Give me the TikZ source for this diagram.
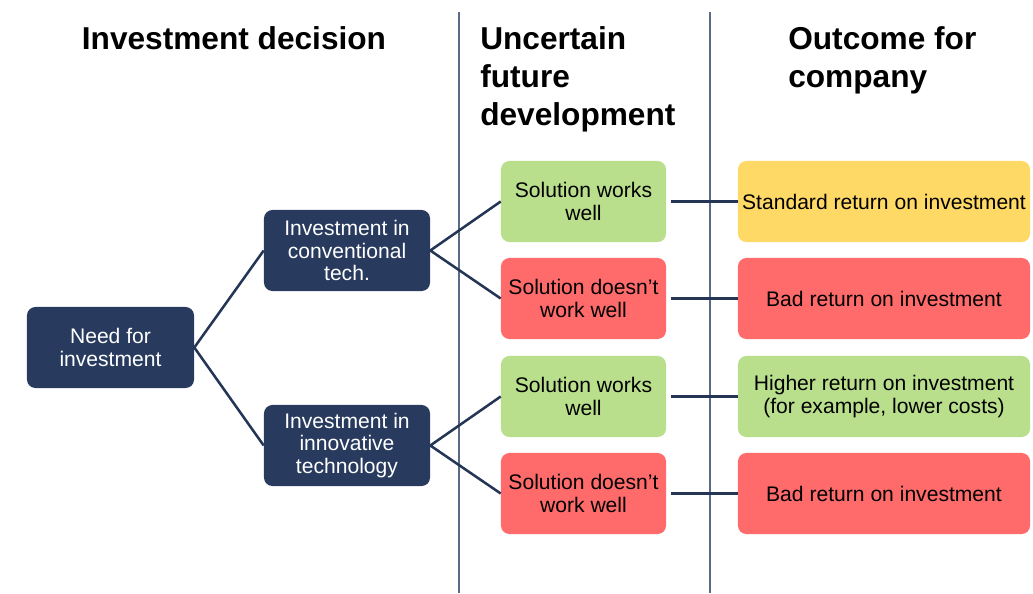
\documentclass[tikz,border=0pt]{standalone}
\usepackage{fontspec}
\setmainfont{Liberation Sans}
\usepackage{xcolor}
\usepackage{tikz}
\usetikzlibrary{positioning}
\definecolor{navy}{HTML}{283B5E}
\definecolor{wire}{HTML}{243556}
\definecolor{rule}{HTML}{5B6B87}
\definecolor{good}{HTML}{B9DF8D}
\definecolor{bad}{HTML}{FF6B6B}
\definecolor{fair}{HTML}{FFD966}
\tikzset{
  box/.style={rounded corners=6pt,inner sep=2pt,align=center,minimum height=2.025cm,font=\fontsize{15}{16}\selectfont},
  decbox/.style={box,fill=navy,text=white,minimum width=4.15cm},
  solbox/.style={box,fill=#1,text=black,minimum width=4.125cm},
  outbox/.style={box,fill=#1,text=black,minimum width=7.3cm},
  head/.style={inner sep=0pt,font=\fontsize{22.5}{27}\selectfont\bfseries,align=left},
  link/.style={draw=wire,line width=1.8pt},
  divider/.style={draw=rule,line width=1pt},
}

\begin{document}
\begin{tikzpicture}[x=0.025cm,y=-0.025cm]
    \useasboundingbox (0,0) rectangle (1033,593);
    % column dividers
    \draw[divider] (459,12) -- (459,593);
    \draw[divider] (710,12) -- (710,593);
    % headings
    \node[head,anchor=north] (h1) at (234,26) {Investment decision};
    \node[head,anchor=north west] (h2) at (480,26) {Uncertain\\future\\development};
    \node[head,anchor=north west] (h3) at (788,26) {Outcome for\\company};
    % decisions
    \node[decbox,minimum width=4.175cm] (need) at (110.5,347.5) {Need for\\investment};
    \node[decbox] (conv) at (347,250.5) {Investment in\\conventional\\tech.};
    \node[decbox] (innov) at (347,445.5) {Investment in\\innovative\\technology};
    % developments
    \node[solbox=good] (s1) at (583.5,201.5) {Solution works\\well};
    \node[solbox=bad] (s2) at (583.5,298.5) {Solution doesn’t\\work well};
    \node[solbox=good] (s3) at (583.5,396.5) {Solution works\\well};
    \node[solbox=bad] (s4) at (583.5,493.5) {Solution doesn’t\\work well};
    % outcomes
    \node[outbox=fair] (o1) at (884,201.5) {Standard return on investment};
    \node[outbox=bad] (o2) at (884,298.5) {Bad return on investment};
    \node[outbox=good] (o3) at (884,396.5) {Higher return on investment\\(for example, lower costs)};
    \node[outbox=bad] (o4) at (884,493.5) {Bad return on investment};
    % tree
    \draw[link] (conv.west) -- (need.east) -- (innov.west);
    \draw[link] (s1.west) -- (conv.east) -- (s2.west);
    \draw[link] (s3.west) -- (innov.east) -- (s4.west);
    \foreach \i in {1,2,3,4}
      \draw[link,shorten <=3pt] (s\i.east) -- (o\i.west);
\end{tikzpicture}
\end{document}
